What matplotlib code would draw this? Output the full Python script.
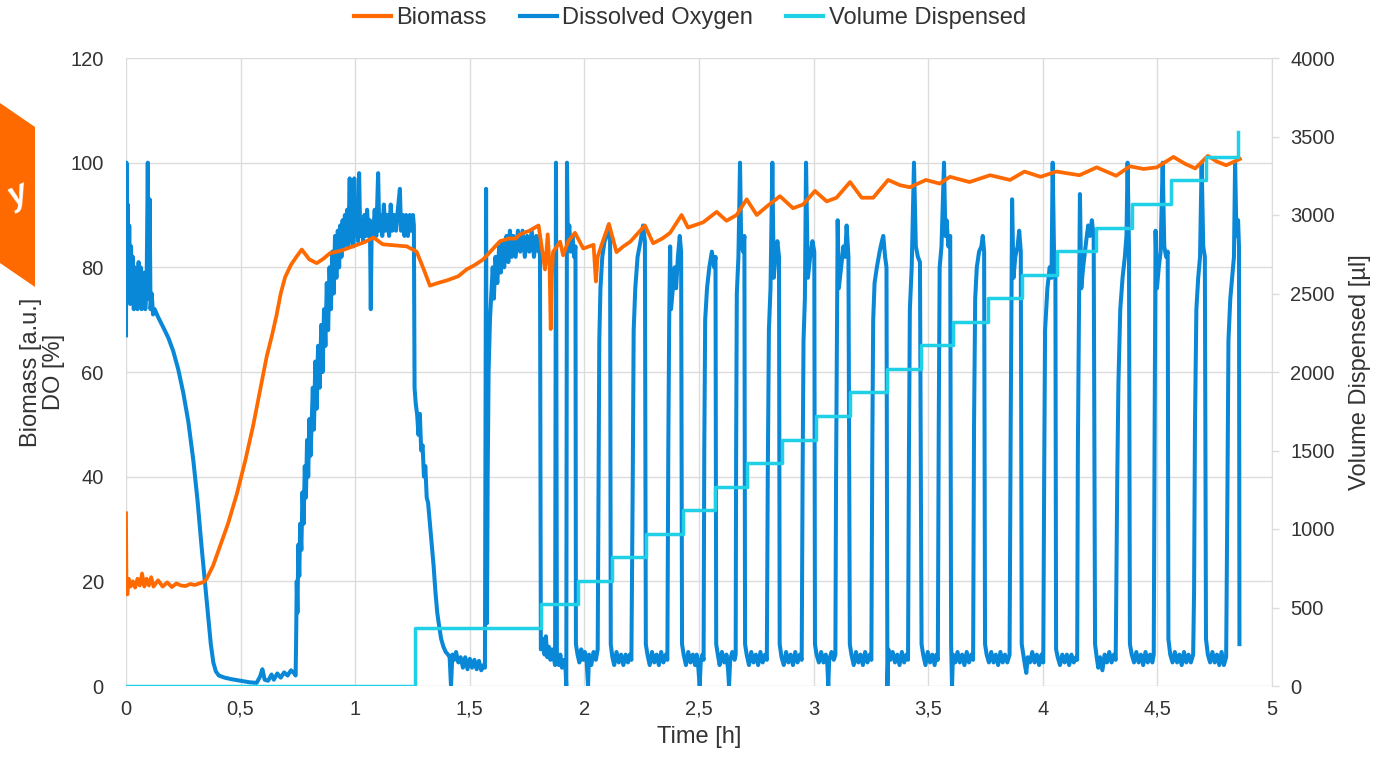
import matplotlib
matplotlib.use('Agg')
import matplotlib.pyplot as plt
from matplotlib.lines import Line2D
from matplotlib.patches import Polygon
import numpy as np

plt.rcParams['font.family'] = ['Liberation Sans', 'DejaVu Sans']

# ---- data ----

# Biomass [a.u.] vs time [h]
bio_t = [0.0, 0.002, 0.006, 0.012, 0.02, 0.03, 0.04, 0.05, 0.06, 0.07, 0.08, 0.09, 0.10, 0.11, 0.12,
         0.14, 0.16, 0.18, 0.20, 0.22, 0.24, 0.26, 0.28, 0.30, 0.32, 0.34, 0.352, 0.38, 0.41, 0.445,
         0.483, 0.52, 0.555, 0.585, 0.614, 0.637, 0.657, 0.675, 0.694, 0.72, 0.745, 0.767, 0.80, 0.832,
         0.86, 0.89, 0.94, 0.99, 1.04, 1.08, 1.12, 1.17, 1.225, 1.268, 1.30, 1.326, 1.36, 1.40, 1.45,
         1.486, 1.52, 1.558, 1.60, 1.632, 1.67, 1.70, 1.719, 1.76, 1.80, 1.828, 1.84, 1.848, 1.853,
         1.858, 1.863, 1.894, 1.907, 1.93, 1.959, 1.995, 2.02, 2.04, 2.05, 2.058, 2.075, 2.107, 2.14,
         2.17, 2.20, 2.264, 2.30, 2.34, 2.374, 2.424, 2.452, 2.518, 2.577, 2.62, 2.664, 2.708, 2.752,
         2.795, 2.853, 2.91, 2.954, 3.006, 3.057, 3.10, 3.159, 3.21, 3.26, 3.325, 3.377, 3.42, 3.49,
         3.55, 3.595, 3.68, 3.77, 3.857, 3.92, 3.99, 4.06, 4.16, 4.235, 4.32, 4.38, 4.44, 4.497, 4.57,
         4.62, 4.665, 4.72, 4.76, 4.80, 4.86]
bio_v = [33, 19, 17.5, 20.5, 19, 20, 18.8, 20.5, 19.2, 21.5, 19, 20.5, 19.2, 20.8, 19,
         20.2, 19, 19.8, 18.9, 19.6, 19.2, 19.1, 19.5, 19.3, 19.6, 19.9, 20.5, 23, 26.7, 31,
         36.6, 43, 49.8, 56.5, 63, 67, 70.9, 75, 78.1, 80.5, 82.1, 83.4, 81.5, 80.8,
         81.6, 82.7, 83.2, 84, 84.8, 85.7, 84.4, 84.2, 84, 83, 79.5, 76.5, 77, 77.5, 78.3,
         79.6, 80.4, 81.5, 83.5, 85, 85.5, 85.5, 86.3, 87, 88, 79.6, 86.3, 80, 68.2,
         78, 82.9, 84.9, 82.3, 85, 86.6, 83.6, 84, 84.3, 77.3, 82, 84.3, 88.3, 82.9,
         84, 84.9, 88, 84.6, 85.5, 86.6, 90, 87.6, 88.6, 90.6, 88.9, 90, 93, 90,
         91.6, 93.6, 91.3, 92, 94.6, 92.6, 93.3, 96.3, 93.3, 93.3, 96.7, 95.7, 95.3, 96.7,
         96, 97.3, 96.3, 97.6, 96.7, 98.3, 97.3, 98.3, 97.6, 99.1, 97.5, 99.3, 98.8, 99.1, 101.1,
         99.8, 98.9, 101.3, 100.2, 99.5, 100.7]

# Dissolved oxygen [%], batch phase (0 - 1.81 h)
do_batch = [
    (0.000, 67), (0.002, 100), (0.005, 76), (0.008, 92), (0.011, 74), (0.014, 88), (0.018, 73),
    (0.022, 84), (0.026, 74), (0.030, 82), (0.034, 72), (0.038, 80), (0.042, 73), (0.046, 78),
    (0.050, 72), (0.055, 81), (0.060, 73), (0.064, 80), (0.068, 72), (0.072, 77), (0.076, 73),
    (0.080, 79), (0.084, 72), (0.090, 76), (0.095, 100), (0.099, 74), (0.103, 93), (0.107, 72),
    (0.112, 75), (0.118, 71), (0.125, 72), (0.14, 70.5), (0.163, 68.5), (0.185, 66.5), (0.206, 64),
    (0.228, 60.5), (0.25, 56), (0.272, 50.5), (0.294, 43), (0.312, 35.5), (0.33, 26.5), (0.345, 19.5),
    (0.359, 13), (0.37, 8), (0.381, 4.5), (0.392, 2.8), (0.405, 2), (0.43, 1.6), (0.46, 1.3),
    (0.5, 1.0), (0.54, 0.7), (0.57, 0.6), (0.585, 1.8), (0.595, 3.2), (0.605, 1.2), (0.62, 1.0),
    (0.635, 2.2), (0.645, 1.2), (0.66, 2.4), (0.675, 1.6), (0.69, 2.6), (0.705, 2.0), (0.72, 3.0),
    (0.735, 2.4), (0.740, 2.0), (0.742, 8), (0.745, 20), (0.748, 14), (0.752, 27), (0.756, 21),
    (0.760, 31), (0.765, 26), (0.770, 37), (0.775, 31), (0.780, 42), (0.785, 36), (0.790, 47),
    (0.795, 40), (0.800, 51), (0.805, 44), (0.810, 50), (0.815, 57), (0.82, 49), (0.826, 62),
    (0.832, 53), (0.838, 65), (0.845, 57), (0.852, 69), (0.858, 60), (0.864, 72), (0.870, 65),
    (0.876, 77), (0.882, 68), (0.888, 80), (0.894, 72), (0.90, 83), (0.906, 75), (0.912, 86),
    (0.918, 78), (0.924, 87), (0.93, 80), (0.935, 88), (0.94, 82), (0.945, 89), (0.95, 84),
    (0.955, 90), (0.96, 85), (0.965, 91), (0.970, 84), (0.976, 97), (0.980, 85), (0.986, 90),
    (0.992, 84), (0.996, 97), (1.000, 86), (1.006, 91), (1.012, 85), (1.017, 98), (1.022, 86),
    (1.028, 89), (1.034, 85), (1.040, 90), (1.046, 86), (1.052, 91), (1.058, 86), (1.064, 89),
    (1.068, 72), (1.072, 88), (1.078, 86), (1.085, 91), (1.092, 86), (1.100, 98), (1.105, 87),
    (1.112, 90), (1.118, 86), (1.125, 92), (1.132, 87), (1.14, 90), (1.148, 86), (1.155, 92),
    (1.162, 87), (1.17, 90), (1.178, 87), (1.186, 91), (1.195, 95), (1.20, 87), (1.208, 90),
    (1.215, 86), (1.222, 90), (1.23, 86), (1.238, 90), (1.245, 87), (1.252, 90), (1.256, 88),
    (1.259, 57), (1.264, 54), (1.27, 52), (1.276, 48), (1.282, 52), (1.288, 45), (1.294, 46),
    (1.30, 40), (1.306, 42), (1.312, 36), (1.318, 35), (1.326, 31), (1.334, 27), (1.342, 23),
    (1.35, 18), (1.358, 14), (1.366, 11.5), (1.375, 9), (1.385, 7.5), (1.395, 6.5), (1.405, 6),
    (1.412, 5.5), (1.418, 0), (1.424, 6), (1.432, 5), (1.44, 6.5), (1.45, 4.5), (1.46, 5.5),
    (1.47, 3.5), (1.48, 5.5), (1.49, 3.2), (1.50, 5.2), (1.51, 3.5), (1.52, 5), (1.53, 3.2),
    (1.54, 4.8), (1.55, 3), (1.56, 4), (1.566, 3.5), (1.571, 95), (1.575, 12), (1.578, 40),
    (1.582, 60), (1.588, 70), (1.595, 76), (1.60, 80), (1.605, 74), (1.612, 82), (1.62, 77),
    (1.628, 84), (1.635, 79), (1.642, 85), (1.65, 80), (1.66, 86), (1.668, 81), (1.675, 87),
    (1.683, 82), (1.69, 86), (1.70, 82), (1.71, 87), (1.72, 83), (1.73, 87), (1.74, 82),
    (1.75, 86), (1.76, 83), (1.77, 87), (1.78, 82), (1.79, 86), (1.80, 83), (1.806, 86),
]

# Dissolved oxygen [%], pulsed feed phase (1.81 - 4.86 h)
do_pulse = [
    (1.81, 7), (1.815, 8), (1.82, 9), (1.826, 6), (1.832, 9.5), (1.838, 5.5), (1.845, 7.5),
    (1.852, 5), (1.858, 7), (1.864, 6), (1.872, 4), (1.876, 100), (1.88, 5), (1.888, 4),
    (1.895, 6), (1.902, 3.5), (1.91, 5), (1.918, 3), (1.921, 0), (1.924, 100), (1.928, 84),
    (1.934, 88), (1.94, 83), (1.948, 86), (1.955, 82), (1.961, 84), (1.963, 8),
    (1.97, 6), (1.978, 4.5), (1.986, 7), (1.994, 5), (2.002, 6.5), (2.01, 4.5), (2.016, 0),
    (2.02, 6), (2.03, 4), (2.04, 6.5), (2.05, 5), (2.058, 7), (2.062, 40), (2.065, 66),
    (2.07, 76), (2.078, 82), (2.088, 85), (2.098, 86), (2.106, 88), (2.112, 86), (2.115, 8),
    (2.122, 5.5), (2.13, 4), (2.14, 6.5), (2.15, 4.5), (2.16, 6), (2.17, 4), (2.18, 6),
    (2.19, 4.5), (2.198, 6), (2.205, 5), (2.211, 40), (2.215, 68), (2.222, 76), (2.232, 82),
    (2.245, 85), (2.256, 88), (2.264, 85), (2.268, 8),
    (2.275, 6), (2.285, 4), (2.295, 6.5), (2.305, 4.5), (2.315, 6), (2.325, 4), (2.335, 6.5),
    (2.345, 4.5), (2.355, 6), (2.362, 5), (2.366, 45), (2.370, 70), (2.374, 84), (2.378, 72),
    (2.386, 76), (2.394, 80), (2.40, 76), (2.408, 82), (2.416, 86), (2.422, 83), (2.426, 8),
    (2.433, 6), (2.443, 4), (2.453, 6.5), (2.463, 4.5), (2.473, 6), (2.483, 4), (2.49, 6),
    (2.497, 3.5), (2.503, 0), (2.508, 5), (2.515, 6), (2.52, 5), (2.523, 45), (2.527, 70),
    (2.535, 76), (2.545, 80), (2.556, 83), (2.566, 80), (2.572, 82), (2.575, 8),
    (2.582, 6), (2.59, 4), (2.60, 6.5), (2.61, 4.5), (2.62, 6), (2.627, 3), (2.631, 0),
    (2.636, 5), (2.645, 6.5), (2.655, 5), (2.66, 6), (2.662, 45), (2.665, 75), (2.672, 82),
    (2.679, 100), (2.684, 85), (2.692, 83), (2.698, 86), (2.701, 8),
    (2.708, 6), (2.718, 4), (2.728, 6.5), (2.738, 4.5), (2.748, 6), (2.758, 4), (2.768, 6.5),
    (2.778, 4.5), (2.788, 6), (2.796, 5), (2.80, 40), (2.805, 68), (2.812, 76), (2.82, 100),
    (2.826, 78), (2.834, 82), (2.842, 85), (2.849, 82), (2.852, 8),
    (2.86, 5.5), (2.87, 4), (2.88, 6.5), (2.89, 4.5), (2.90, 6), (2.91, 4), (2.92, 6.5),
    (2.93, 4.5), (2.94, 6), (2.948, 5), (2.952, 40), (2.956, 66), (2.962, 74), (2.967, 100),
    (2.975, 78), (2.985, 82), (2.995, 85), (3.003, 83), (3.006, 8),
    (3.013, 6), (3.023, 4.5), (3.033, 6.5), (3.043, 4.5), (3.053, 6), (3.06, 4), (3.064, 0),
    (3.068, 5), (3.078, 6.5), (3.088, 5), (3.095, 6), (3.098, 40), (3.102, 70), (3.105, 89),
    (3.11, 76), (3.12, 80), (3.13, 84), (3.138, 82), (3.144, 88), (3.152, 82), (3.158, 8),
    (3.165, 6), (3.175, 4), (3.185, 6.5), (3.195, 4.5), (3.205, 6), (3.215, 4), (3.225, 6.5),
    (3.235, 4.5), (3.245, 6), (3.252, 5), (3.256, 45), (3.26, 70), (3.266, 77), (3.276, 80),
    (3.288, 83), (3.298, 85), (3.304, 86), (3.312, 82), (3.318, 80), (3.322, 0),
    (3.326, 7), (3.335, 5), (3.345, 6.5), (3.355, 4.5), (3.365, 6), (3.375, 4), (3.385, 6.5),
    (3.395, 4.5), (3.405, 6), (3.412, 5), (3.416, 45), (3.42, 72), (3.428, 80), (3.438, 100),
    (3.446, 84), (3.455, 82), (3.464, 81), (3.471, 8),
    (3.478, 6), (3.488, 4), (3.498, 6.5), (3.508, 4.5), (3.518, 6), (3.528, 4), (3.536, 6),
    (3.542, 5), (3.546, 50), (3.55, 80), (3.558, 84), (3.569, 100), (3.575, 86), (3.58, 89),
    (3.588, 84), (3.596, 86), (3.60, 8), (3.604, 0), (3.608, 6),
    (3.618, 4.5), (3.628, 6.5), (3.638, 4.5), (3.648, 6), (3.658, 4), (3.668, 6.5), (3.678, 4.5),
    (3.688, 6), (3.696, 5), (3.70, 50), (3.705, 74), (3.712, 80), (3.722, 83), (3.732, 84),
    (3.738, 86), (3.744, 83), (3.748, 8),
    (3.755, 6), (3.765, 4.5), (3.775, 6.5), (3.785, 4.5), (3.795, 6), (3.805, 4), (3.815, 6.5),
    (3.825, 4.5), (3.835, 6), (3.845, 4.5), (3.855, 6), (3.86, 50), (3.866, 93), (3.872, 78),
    (3.88, 82), (3.89, 84), (3.897, 87), (3.904, 83), (3.908, 8),
    (3.915, 6), (3.922, 4), (3.928, 2.5), (3.934, 5.5), (3.944, 4.5), (3.954, 6.5), (3.964, 4.5),
    (3.974, 6), (3.984, 4), (3.994, 6), (4.002, 4.5), (4.006, 40), (4.01, 68), (4.02, 76),
    (4.03, 80), (4.038, 78), (4.043, 100), (4.05, 80), (4.055, 78), (4.058, 7),
    (4.065, 5.5), (4.075, 4), (4.085, 6), (4.095, 4.5), (4.105, 6), (4.115, 4), (4.125, 6),
    (4.135, 4.5), (4.145, 5.5), (4.15, 5), (4.153, 45), (4.157, 66), (4.162, 94), (4.168, 76),
    (4.176, 80), (4.184, 83), (4.192, 86), (4.198, 88), (4.206, 86), (4.214, 89), (4.222, 86),
    (4.228, 8),
    (4.235, 5.5), (4.242, 3.5), (4.25, 5.5), (4.26, 3), (4.27, 6), (4.28, 4.5), (4.29, 6.5),
    (4.30, 4.5), (4.31, 6), (4.318, 5), (4.325, 40), (4.33, 58), (4.338, 72), (4.348, 78),
    (4.358, 82), (4.365, 86), (4.37, 100), (4.376, 84), (4.38, 8),
    (4.388, 6), (4.398, 4.5), (4.408, 6.5), (4.418, 4.5), (4.428, 6), (4.438, 4), (4.448, 6.5),
    (4.458, 4.5), (4.468, 6), (4.478, 4.5), (4.484, 6), (4.488, 50), (4.492, 87), (4.498, 76),
    (4.506, 80), (4.514, 83), (4.523, 100), (4.53, 84), (4.538, 82), (4.545, 83), (4.548, 9),
    (4.556, 6), (4.566, 4.5), (4.576, 6.5), (4.586, 4.5), (4.596, 6), (4.606, 4), (4.616, 6.5),
    (4.626, 4.5), (4.636, 6), (4.646, 4.5), (4.656, 6), (4.66, 18), (4.664, 50), (4.67, 72),
    (4.678, 78), (4.686, 82), (4.693, 100), (4.70, 84), (4.707, 82), (4.712, 9),
    (4.72, 6), (4.73, 4.5), (4.74, 6.5), (4.75, 4.5), (4.76, 6), (4.77, 4), (4.78, 6.5),
    (4.79, 4), (4.80, 5.5), (4.806, 40), (4.81, 66), (4.818, 74), (4.826, 78), (4.834, 82),
    (4.839, 100), (4.845, 86), (4.852, 89), (4.856, 84), (4.858, 8),
]

# Volume dispensed [ul], step changes
vol_t = [0.0, 1.26, 1.81, 1.97, 2.12, 2.27, 2.43, 2.57, 2.71, 2.86, 3.01, 3.16, 3.32, 3.47,
         3.61, 3.76, 3.91, 4.06, 4.23, 4.39, 4.56, 4.71, 4.85]
vol_v = [0, 370, 520, 670, 820, 970, 1120, 1270, 1420, 1570, 1720, 1870, 2020, 2170,
         2320, 2470, 2620, 2770, 2920, 3070, 3220, 3370, 3530]

x_ticks = [0, 0.5, 1, 1.5, 2, 2.5, 3, 3.5, 4, 4.5, 5]
x_labels = ['0', '0,5', '1', '1,5', '2', '2,5', '3', '3,5', '4', '4,5', '5']
left_ticks = [0, 20, 40, 60, 80, 100, 120]
right_ticks = [0, 500, 1000, 1500, 2000, 2500, 3000, 3500, 4000]

# ---- styling ----
C_BIO = '#ff6a00'
C_DO = '#0a88d8'
C_VOL = '#1fd0e6'
C_TXT = '#333333'
C_GRID = '#dcdcdc'

do_pts = np.array(do_batch + do_pulse)
do_t, do_v = do_pts[:, 0], do_pts[:, 1]

fig = plt.figure(figsize=(13.8, 7.58), dpi=100)
ax = fig.add_axes([126/1380, 1 - 686/758, (1272 - 126)/1380, (686 - 58)/758])

ax.plot(bio_t, bio_v, color=C_BIO, lw=2.7, zorder=3)
ax.plot(do_t, do_v, color=C_DO, lw=2.9, zorder=2)

ax.set_xlim(0, 5)
ax.set_ylim(0, 120)
ax.set_xticks(x_ticks)
ax.set_xticklabels(x_labels)
ax.set_yticks(left_ticks)
ax.grid(True, color=C_GRID, lw=1.0)
ax.set_axisbelow(True)
for s in ax.spines.values():
    s.set_visible(False)
ax.tick_params(axis='both', length=0, labelsize=14.5, colors=C_TXT)
ax.tick_params(axis='y', pad=16)
ax.tick_params(axis='x', pad=10)
ax.set_xlabel('Time [h]', fontsize=17, color=C_TXT, labelpad=5)
ax.set_ylabel('Biomass [a.u.]\nDO [%]', fontsize=17, color=C_TXT, labelpad=4, linespacing=1.05)

ax2 = ax.twinx()
ax2.step(vol_t, vol_v, where='post', color=C_VOL, lw=2.5, zorder=4)
ax2.set_ylim(0, 4000)
ax2.set_yticks(right_ticks)
for s in ax2.spines.values():
    s.set_visible(False)
ax2.spines['right'].set_visible(True)
ax2.spines['right'].set_color(C_GRID)
ax2.tick_params(axis='y', length=5, width=1, color=C_GRID, labelsize=14.5, labelcolor=C_TXT, pad=8)
ax2.set_ylabel('Volume Dispensed [µl]', fontsize=17, color=C_TXT, labelpad=10)

handles = [Line2D([], [], color=C_BIO, lw=3),
           Line2D([], [], color=C_DO, lw=3),
           Line2D([], [], color=C_VOL, lw=3)]
fig.legend(handles, ['Biomass', 'Dissolved Oxygen', 'Volume Dispensed'],
           loc='center', bbox_to_anchor=(0.5, 1 - 18/758), ncol=3, frameon=False,
           fontsize=17, handlelength=1.55, handletextpad=0.25, columnspacing=1.4,
           labelcolor=C_TXT)

# partial orange logo at the left edge
logo = Polygon([(0, 1 - 103/758), (35/1380, 1 - 127/758), (35/1380, 1 - 287/758), (0, 1 - 263/758)],
               closed=True, transform=fig.transFigure, facecolor='#ff6a00', edgecolor='none')
fig.patches.append(logo)
fig.text(18/1380, 1 - 196/758, 'y', transform=fig.transFigure, color='white', fontsize=24,
         fontweight='bold', style='italic', rotation=25, ha='center', va='center')

fig.savefig('out.png', dpi=100)
